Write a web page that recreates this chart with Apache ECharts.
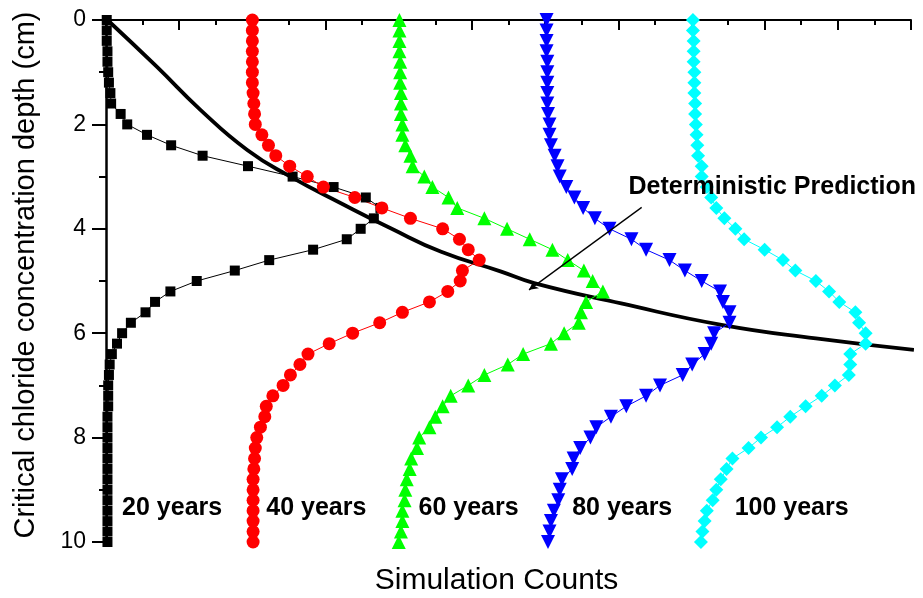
<!DOCTYPE html>
<html>
<head>
<meta charset="utf-8">
<script src="https://cdn.jsdelivr.net/npm/echarts@6/dist/echarts.min.js"></script>
<style>
  html, body { margin: 0; padding: 0; background: #fff; }
  #chart { width: 923px; height: 598px; }
</style>
</head>
<body>
<div id="chart"></div>
<script>
// depth (cm) of every simulated point
var depths = [0, 0.2, 0.4, 0.6, 0.8, 1, 1.2, 1.4, 1.6, 1.8, 2, 2.2, 2.4, 2.6, 2.8, 3, 3.2, 3.4, 3.6, 3.8,
  4, 4.2, 4.4, 4.6, 4.8, 5, 5.2, 5.4, 5.6, 5.8, 6, 6.2, 6.4, 6.6, 6.8, 7, 7.2, 7.4, 7.6, 7.8,
  8, 8.2, 8.4, 8.6, 8.8, 9, 9.2, 9.4, 9.6, 9.8, 10];

// simulation counts (horizontal, each curve shifted on the axis)
var counts20 = [0.01, 0.01, 0.01, 0.02, 0.02, 0.03, 0.04, 0.06, 0.07, 0.2, 0.29, 0.56, 0.89, 1.32, 1.94, 2.55, 3.11, 3.55, 3.75, 3.66,
  3.48, 3.29, 2.83, 2.23, 1.76, 1.24, 0.88, 0.67, 0.54, 0.34, 0.22, 0.15, 0.08, 0.05, 0.04, 0.03, 0.03, 0.03, 0.02, 0.02,
  0.02, 0.02, 0.02, 0.02, 0.02, 0.02, 0.02, 0.02, 0.02, 0.02, 0.02];
var counts40 = [2.0, 2.0, 2.0, 2.0, 2.0, 2.0, 2.0, 2.01, 2.02, 2.03, 2.04, 2.13, 2.22, 2.32, 2.51, 2.75, 2.97, 3.40, 3.77, 4.16,
  4.6, 4.83, 4.95, 5.1, 4.87, 4.84, 4.67, 4.42, 4.05, 3.74, 3.37, 3.05, 2.76, 2.65, 2.52, 2.42, 2.28, 2.19, 2.17, 2.11,
  2.06, 2.04, 2.03, 2.02, 2.01, 2.01, 2.01, 2.01, 2.01, 2.01, 2.01];
var counts60 = [4.01, 4.01, 4.01, 4.01, 4.02, 4.02, 4.02, 4.03, 4.03, 4.03, 4.05, 4.05, 4.09, 4.16, 4.19, 4.35, 4.46, 4.68, 4.8, 5.17,
  5.48, 5.79, 6.1, 6.31, 6.53, 6.65, 6.79, 6.56, 6.49, 6.46, 6.26, 6.08, 5.70, 5.49, 5.17, 4.95, 4.71, 4.6, 4.5, 4.42,
  4.28, 4.25, 4.17, 4.15, 4.11, 4.09, 4.08, 4.05, 4.05, 4.03, 4.0];
var counts80 = [6.02, 6.02, 6.02, 6.02, 6.03, 6.03, 6.03, 6.03, 6.03, 6.04, 6.06, 6.06, 6.08, 6.13, 6.17, 6.2, 6.29, 6.4, 6.52, 6.68,
  6.88, 7.18, 7.38, 7.70, 7.91, 8.14, 8.39, 8.43, 8.52, 8.52, 8.31, 8.27, 8.18, 8.01, 7.88, 7.57, 7.38, 7.11, 6.9, 6.7,
  6.62, 6.48, 6.39, 6.37, 6.23, 6.2, 6.18, 6.12, 6.08, 6.06, 6.04];
var counts100 = [8.02, 8.02, 8.03, 8.03, 8.03, 8.04, 8.04, 8.04, 8.05, 8.05, 8.06, 8.07, 8.08, 8.09, 8.14, 8.14, 8.21, 8.27, 8.34, 8.45,
  8.6, 8.72, 9.0, 9.25, 9.42, 9.7, 9.88, 10.02, 10.24, 10.29, 10.38, 10.38, 10.17, 10.17, 10.15, 9.96, 9.78, 9.56, 9.35, 9.17,
  8.95, 8.78, 8.56, 8.48, 8.4, 8.34, 8.29, 8.21, 8.18, 8.15, 8.13];

// deterministic prediction curve
var predX = [0.02, 0.69, 1.29, 1.93, 2.52, 3.21, 3.89, 4.58, 5.4, 5.85, 7.04, 8.41, 9.7, 11.04];
var predDepth = [0, 0.89, 1.72, 2.49, 3.0, 3.51, 3.99, 4.44, 4.82, 5.04, 5.43, 5.84, 6.1, 6.32];

var yearLabels = ['20 years', '40 years', '60 years', '80 years', '100 years'];
var yTicks = ['0', '2', '4', '6', '8', '10'];

var FONT = '"Liberation Sans", Arial, sans-serif';

function pairs(xs, ys) {
  return xs.map(function (v, i) { return [v, ys[i]]; });
}

function simSeries(name, xs, color, symbol, size, rotate) {
  return {
    name: name,
    type: 'line',
    data: pairs(xs, depths),
    symbol: symbol,
    symbolSize: size,
    symbolRotate: rotate || 0,
    showAllSymbol: true,
    itemStyle: { color: color },
    lineStyle: { color: color, width: 1 },
    z: 3
  };
}

var chart = echarts.init(document.getElementById('chart'));

// label positions, in axis units
var labelPos = [[0.22, 9.35], [2.19, 9.35], [4.27, 9.35], [6.37, 9.35], [8.59, 9.35]];

var option = {
  animation: false,
  backgroundColor: '#fff',
  grid: { left: 106, right: 12, top: 20, bottom: 56, outerBoundsMode: 'none', containLabel: false },
  xAxis: {
    type: 'value',
    min: 0,
    max: 11,
    interval: 1,
    name: 'Simulation Counts',
    nameLocation: 'middle',
    nameGap: 24,
    nameTextStyle: { fontFamily: FONT, fontSize: 30, color: '#000', padding: [0, 24, 0, 0] },
    axisLine: { lineStyle: { color: '#000', width: 2 } },
    axisTick: { length: 10, lineStyle: { color: '#000', width: 2 } },
    minorTick: { show: true, splitNumber: 2, length: 5, lineStyle: { color: '#000', width: 2 } },
    axisLabel: { show: false },
    splitLine: { show: false }
  },
  yAxis: {
    type: 'value',
    inverse: true,
    min: 0,
    max: 10,
    interval: 2,
    name: 'Critical chloride concentration depth (cm)',
    nameLocation: 'middle',
    nameGap: 66,
    nameRotate: 90,
    nameTextStyle: { fontFamily: FONT, fontSize: 29, color: '#000', padding: [0, 0, 0, 12] },
    axisLine: { lineStyle: { color: '#000', width: 2.5 } },
    axisTick: { length: 14, lineStyle: { color: '#000', width: 2 } },
    minorTick: { show: true, splitNumber: 2, length: 7, lineStyle: { color: '#000', width: 2 } },
    axisLabel: {
      margin: 20,
      fontFamily: FONT,
      fontSize: 23,
      color: '#000',
      formatter: function (v) { return yTicks[Math.round(v / 2)]; }
    },
    splitLine: { show: false }
  },
  series: [
    {
      name: 'Deterministic Prediction',
      type: 'line',
      smooth: true,
      symbol: 'none',
      data: pairs(predX, predDepth),
      lineStyle: { color: '#000', width: 3.8 },
      z: 2,
      markLine: {
        silent: true,
        symbol: ['none', 'arrow'],
        symbolSize: [7, 9],
        label: { show: false },
        lineStyle: { color: '#000', width: 1.3, type: 'solid' },
        data: [[{ coord: [7.32, 3.59] }, { coord: [5.78, 5.17] }]]
      }
    },
    simSeries('20 years', counts20, '#000000', 'rect', 10),
    simSeries('40 years', counts40, '#ff0000', 'circle', 13),
    simSeries('60 years', counts60, '#00ff00', 'triangle', 14),
    simSeries('80 years', counts80, '#0000ff', 'triangle', 14, 180),
    simSeries('100 years', counts100, '#00ffff', 'diamond', [14, 14]),
    {
      name: 'labels',
      type: 'scatter',
      symbol: 'circle',
      symbolSize: 0,
      itemStyle: { color: '#000' },
      silent: true,
      z: 5,
      data: labelPos.map(function (p, i) {
        return { value: p, name: yearLabels[i] };
      }).concat([{ value: [7.14, 3.2], name: 'Deterministic Prediction' }]),
      label: {
        show: true,
        position: 'right',
        distance: 0,
        formatter: function (p) { return p.name; },
        fontFamily: FONT,
        fontWeight: 'bold',
        fontSize: 25,
        color: '#000',
        opacity: 1,
        textBorderWidth: 0
      }
    }
  ]
};

chart.setOption(option);
</script>
</body>
</html>
